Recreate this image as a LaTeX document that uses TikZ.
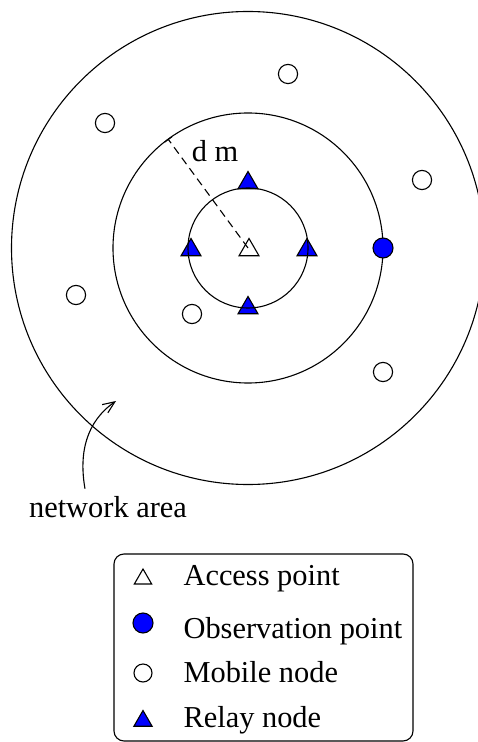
\documentclass[tikz,border=0pt]{standalone}
\usepackage{fontspec}
\setmainfont{Liberation Serif}
\usetikzlibrary{arrows.meta,shapes.geometric}

\begin{document}
\begin{tikzpicture}[
  x=0.5pt, y=-0.5pt,
  font=\fontsize{15.2}{18}\selectfont,
  line width=0.55pt,
  tri/.style={regular polygon, regular polygon sides=3, draw, inner sep=0pt, minimum size=11.5pt},
  relay/.style={tri, fill=blue},
  access/.style={tri, fill=white},
  dot/.style={circle, draw, inner sep=0pt, minimum size=9.6pt},
  mobile/.style={dot, fill=white},
  observe/.style={dot, fill=blue, minimum size=10pt},
  legendbox/.style={draw, rounded corners=5pt, minimum width=149.5pt, minimum height=93.5pt},
  legendtext/.style={anchor=base west, inner xsep=0pt},
  arr/.style={-{Straight Barb[length=6pt, width=5pt]}}
]
\useasboundingbox (0,0) rectangle (477,742);

\coordinate (ctr) at (248,248);

% access point and relay nodes
\node[access] (ap) at (249,250) {};
\node[relay] (r1) at (248,183) {};
\node[relay] (r2) at (191,250) {};
\node[relay] (r3) at (307,250) {};
\node[relay] (r4) at (248,308) {};

% rings
\draw (ctr) circle[radius=30pt];
\draw (ctr) circle[radius=67.5pt];
\draw (ctr) circle[radius=118.25pt];

% observation point and mobile nodes
\node[observe] (op) at (383,248) {};
\node[mobile] (m1) at (288,74) {};
\node[mobile] (m2) at (105,123) {};
\node[mobile] (m3) at (422,180) {};
\node[mobile] (m4) at (76,295) {};
\node[mobile] (m5) at (192,314) {};
\node[mobile] (m6) at (383,372) {};

% distance
\coordinate (tick) at (168,139);
\draw[dash pattern=on 4pt off 2.5pt, -{Bar[width=4.5pt]}] (ctr) -- (tick);
\node[anchor=base] (dist) at (215,162) {d m};

% network area label
\node[anchor=base] (area) at (108,517) {network area};
\coordinate (areatip) at (116,401);
\draw[arr] ([xshift=-11.5pt]area.north) to[out=100, in=215] (areatip);

% legend
\node[legendbox] (legend) at (263.5,647.5) {};
\node[access, minimum size=10pt] (lap) at (143,579) {};
\node[observe] (lop) at (143,623) {};
\node[mobile, minimum size=9pt] (lmn) at (143,673) {};
\node[relay, minimum size=10.5pt] (lrn) at (143,721) {};
\node[legendtext] (tap) at (183,585) {Access point};
\node[legendtext] (top) at (183,638) {Observation point};
\node[legendtext] (tmn) at (183,682) {Mobile node};
\node[legendtext] (trn) at (183,727) {Relay node};
\end{tikzpicture}
\end{document}
